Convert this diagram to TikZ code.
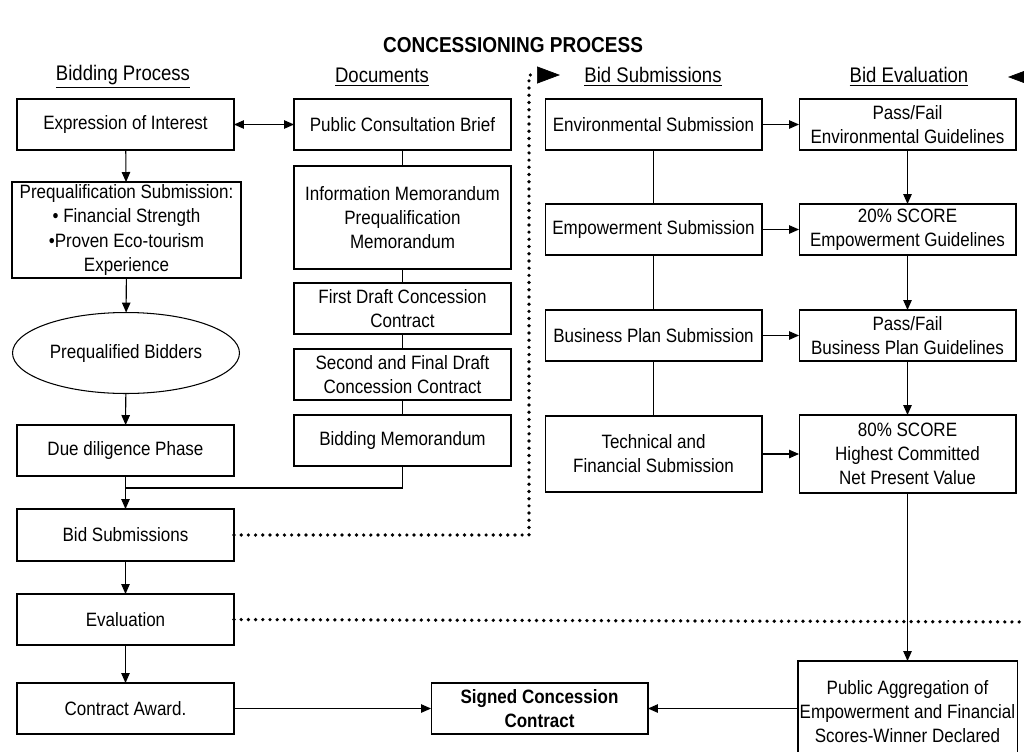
\documentclass[tikz,border=0pt]{standalone}
\usepackage{fontspec}
\setmainfont{Liberation Sans}[FakeStretch=0.88]
\usetikzlibrary{arrows.meta,shapes.geometric}

\begin{document}
\begin{tikzpicture}[x=0.02cm, y=-0.02cm,
    box/.style={draw, line width=0.6pt, align=center, inner sep=1pt, outer sep=0pt,
        minimum width=4.34cm, minimum height=1.02cm, font=\fontsize{11}{13.7}\selectfont},
    head/.style={font=\fontsize{12}{14}\selectfont},
    link/.style={line width=0.6pt},
    flow/.style={line width=0.6pt, -{Triangle[length=0.2cm, width=0.17cm]}},
    dots/.style={line width=2.1pt, dash pattern=on 0pt off 4.1pt, line cap=round,
        -{Triangle[length=0.46cm, width=0.34cm, line width=0.4pt]}}]

    \clip (0,0) rectangle (1024,751);

    % title and column heads
    \node[font=\fontsize{12.3}{14}\selectfont\bfseries] (title) at (513,45) {CONCESSIONING PROCESS};
    \node[head] (hbid) at (123,77) {\underline{Bidding Process}};
    \node[head] (hdoc) at (382,77) {\underline{Documents}};
    \node[head] (hsub) at (653,77) {\underline{Bid Submissions}};
    \node[head] (heval) at (909,77) {\underline{Bid Evaluation}};

    % bidding process
    \node[box] (expr) at (125.5,124.5) {Expression of Interest};
    \node[box, minimum width=4.58cm, minimum height=1.92cm] (prequal) at (126.5,230)
        {Prequalification Submission:\\ \textbullet{} Financial Strength\\ \textbullet Proven Eco-tourism\\ Experience};
    \node[box, ellipse, inner sep=0pt, minimum width=4.54cm, minimum height=1.62cm] (bidders) at (126,353) {Prequalified Bidders};
    \node[box] (due) at (125.5,450.5) {Due diligence Phase};
    \node[box, minimum height=1.04cm] (bidsub) at (125.5,535) {Bid Submissions};
    \node[box] (evaln) at (125.5,619.5) {Evaluation};
    \node[box] (award) at (125.5,708.5) {Contract Award.};

    % documents
    \node[box] (brief) at (402.5,124.5) {Public Consultation Brief};
    \node[box, minimum height=2.06cm] (info) at (402.5,217.5) {Information Memorandum\\ Prequalification\\ Memorandum};
    \node[box] (draft1) at (402.5,308.5) {First Draft Concession\\ Contract};
    \node[box] (draft2) at (402.5,374.5) {Second and Final Draft\\ Concession Contract};
    \node[box] (memo) at (402.5,440.5) {Bidding Memorandum};
    \coordinate (join) at (125.5,488);

    % bid submissions
    \node[box] (env) at (653.5,124.5) {Environmental Submission};
    \node[box] (emp) at (653.5,229.5) {Empowerment Submission};
    \node[box] (biz) at (653.5,335.5) {Business Plan Submission};
    \node[box, minimum height=1.52cm] (tech) at (653.5,454) {Technical and\\ Financial Submission};

    % bid evaluation
    \node[box] (pfenv) at (907.5,124.5) {Pass/Fail\\ Environmental Guidelines};
    \node[box] (score20) at (907.5,229.5) {20\% SCORE\\ Empowerment Guidelines};
    \node[box] (pfbiz) at (907.5,335.5) {Pass/Fail\\ Business Plan Guidelines};
    \node[box, minimum height=1.56cm] (score80) at (907.5,454) {80\% SCORE\\ Highest Committed\\ Net Present Value};
    \node[box, minimum height=2.04cm] (aggr) at (907.5,712) {Public Aggregation of\\ Empowerment and Financial\\ Scores-Winner Declared};

    \node[box, font=\fontsize{11}{13.7}\selectfont\bfseries] (signed) at (539.5,708.5) {Signed Concession\\ Contract};

    % connectors
    \draw[link, {Triangle[length=0.2cm, width=0.17cm]}-{Triangle[length=0.2cm, width=0.17cm]}] (expr) -- (brief);
    \draw[flow] (expr) -- (prequal);
    \draw[flow] (prequal) -- (bidders);
    \draw[flow] (bidders) -- (due);
    \draw[link] (memo.south) |- (join);
    \draw[flow] (due) -- (bidsub);
    \draw[flow] (bidsub) -- (evaln);
    \draw[flow] (evaln) -- (award);

    \draw[link] (brief) -- (info) -- (draft1) -- (draft2) -- (memo);
    \draw[link] (env) -- (emp) -- (biz) -- (tech);

    \draw[flow] (env) -- (pfenv);
    \draw[flow] (emp) -- (score20);
    \draw[flow] (biz) -- (pfbiz);
    \draw[flow] (tech) -- (score80);
    \draw[flow] (pfenv) -- (score20);
    \draw[flow] (score20) -- (pfbiz);
    \draw[flow] (pfbiz) -- (score80);
    \draw[flow] (score80) -- (aggr);

    \draw[flow] (award) -- (signed);
    \draw[flow] (aggr.west |- signed.east) -- (signed.east);

    % dotted links
    \draw[dots] (bidsub.east) -| (529,75) -- (560,75);
    \draw[dots] (evaln.east) -- (1040,622) -- (1040,77) -- (1008,77);

\end{tikzpicture}
\end{document}
